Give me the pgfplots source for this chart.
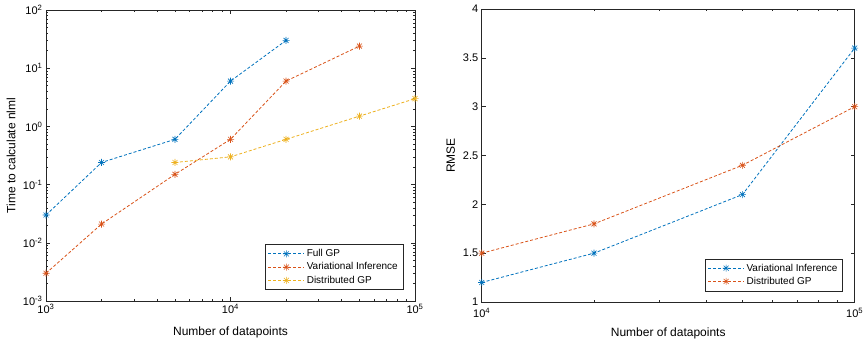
\documentclass[border=0pt]{standalone}
\usepackage{fontspec}
\setmainfont{Liberation Sans}
\usepackage{pgfplots}
\pgfplotsset{compat=1.18}
\definecolor{mb}{rgb}{0,0.447,0.741}
\definecolor{mo}{rgb}{0.85,0.325,0.098}
\definecolor{my}{rgb}{0.929,0.694,0.125}
\pgfdeclareplotmark{mstar}{%
  \pgfpathmoveto{\pgfqpoint{-\pgfplotmarksize}{0pt}}\pgfpathlineto{\pgfqpoint{\pgfplotmarksize}{0pt}}%
  \pgfpathmoveto{\pgfqpoint{0pt}{-\pgfplotmarksize}}\pgfpathlineto{\pgfqpoint{0pt}{\pgfplotmarksize}}%
  \pgfpathmoveto{\pgfqpoint{-0.707\pgfplotmarksize}{-0.707\pgfplotmarksize}}\pgfpathlineto{\pgfqpoint{0.707\pgfplotmarksize}{0.707\pgfplotmarksize}}%
  \pgfpathmoveto{\pgfqpoint{-0.707\pgfplotmarksize}{0.707\pgfplotmarksize}}\pgfpathlineto{\pgfqpoint{0.707\pgfplotmarksize}{-0.707\pgfplotmarksize}}%
  \pgfusepathqstroke}
\pgfplotsset{
  mstyle/.style={
    scale only axis,
    axis line style={black!85, line width=0.5pt},
    every tick/.style={black!85, line width=0.5pt},
    tick align=inside,
    major tick length=4pt,
    minor tick length=2pt,
    tick label style={font=\fontsize{11}{13}\selectfont},
    label style={font=\fontsize{12}{14}\selectfont},
    /pgf/number format/assume math mode=true,
    legend style={font=\fontsize{10}{12}\selectfont, draw=black!85, line width=0.5pt, inner xsep=3pt, inner ysep=3pt, row sep=0.5pt, cells={anchor=west}},
    legend cell align=left,
    legend image code/.code={\draw[mark repeat=2,mark phase=2] plot coordinates {(0pt,0pt) (18pt,0pt) (36pt,0pt)};},
    every axis plot/.append style={line width=0.8pt, dash pattern=on 3pt off 2pt, mark=mstar, mark size=3.5pt, mark options={solid, line width=0.6pt}},
  }
}
\begin{document}
\begin{tikzpicture}
\path[use as bounding box] (-46pt,-40pt) rectangle (821pt,301pt);
\begin{axis}[mstyle,
  at={(0pt,0pt)}, anchor=south west,
  width=369pt, height=291pt,
  xmode=log, ymode=log,
  xmin=1000, xmax=100000, ymin=1e-3, ymax=100,
  xtick={1000,10000,100000},
  xticklabels={10\textsuperscript{3},10\textsuperscript{4},10\textsuperscript{5}},
  minor xtick={2000,3000,4000,5000,6000,7000,8000,9000,20000,30000,40000,50000,60000,70000,80000,90000},
  ytick={1e-3,1e-2,1e-1,1,10,100},
  yticklabels={10\textsuperscript{-3},10\textsuperscript{-2},10\textsuperscript{-1},10\textsuperscript{0},10\textsuperscript{1},10\textsuperscript{2}},
  minor ytick={0.002,0.003,0.004,0.005,0.006,0.007,0.008,0.009,0.02,0.03,0.04,0.05,0.06,0.07,0.08,0.09,0.2,0.3,0.4,0.5,0.6,0.7,0.8,0.9,2,3,4,5,6,7,8,9,20,30,40,50,60,70,80,90},
  xlabel={Number of datapoints},
  ylabel={Time to calculate nlml},
  xlabel style={at={([yshift=-31pt]axis description cs:0.5,0)}, anchor=center},
  ylabel style={at={([xshift=-35pt]axis description cs:0,0.5)}, anchor=center},
  legend style={at={(0.9675,0.038)}, anchor=south east},
]
\addplot[color=mb] coordinates {(1000,0.03) (2000,0.24) (5000,0.6) (10000,6) (20000,30)};
\addlegendentry{Full GP}
\addplot[color=mo] coordinates {(1000,0.003) (2000,0.021) (5000,0.15) (10000,0.6) (20000,6) (50000,24)};
\addlegendentry{Variational Inference}
\addplot[color=my] coordinates {(5000,0.24) (10000,0.3) (20000,0.6) (50000,1.5) (100000,3)};
\addlegendentry{Distributed GP}
\end{axis}
\begin{axis}[mstyle,
  at={(435.7pt,-1pt)}, anchor=south west,
  width=373pt, height=293pt,
  xmode=log,
  xmin=10000, xmax=100000, ymin=1, ymax=4,
  xtick={10000,100000},
  xticklabels={10\textsuperscript{4},10\textsuperscript{5}},
  xticklabel style={yshift=-3pt},
  minor xtick={20000,30000,40000,50000,60000,70000,80000,90000},
  ytick={1,1.5,2,2.5,3,3.5,4},
  yticklabels={1,1.5,2,2.5,3,3.5,4},
  xlabel={Number of datapoints},
  ylabel={RMSE},
  xlabel style={at={([yshift=-31pt]axis description cs:0.5,0)}, anchor=center},
  ylabel style={at={([xshift=-31pt]axis description cs:0,0.5)}, anchor=center},
  legend style={at={(0.968,0.0375)}, anchor=south east},
]
\addplot[color=mb] coordinates {(10000,1.2) (20000,1.5) (50000,2.1) (100000,3.6)};
\addlegendentry{Variational Inference}
\addplot[color=mo] coordinates {(10000,1.5) (20000,1.8) (50000,2.4) (100000,3.0)};
\addlegendentry{Distributed GP}
\end{axis}
\end{tikzpicture}
\end{document}
